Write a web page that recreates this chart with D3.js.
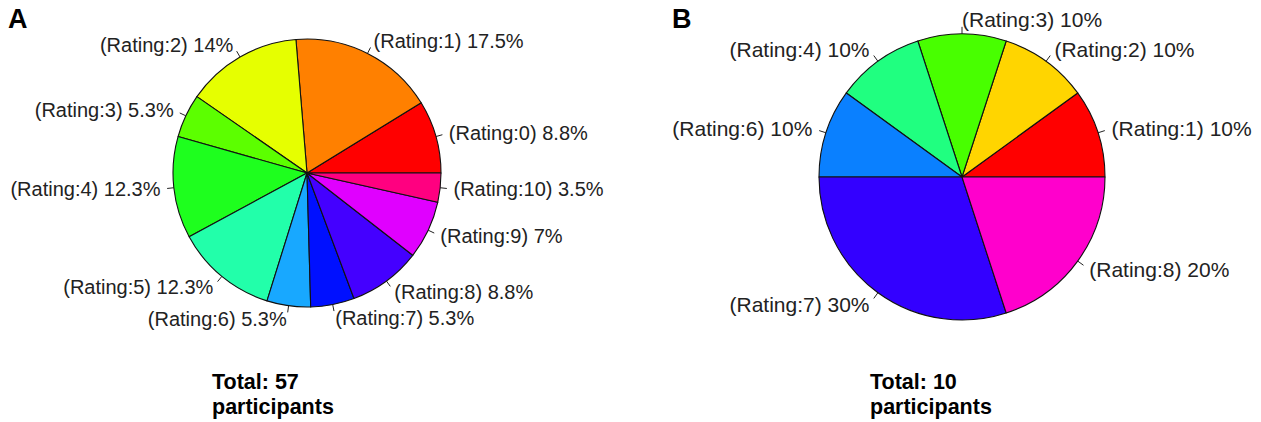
<!DOCTYPE html>
<html>
<head>
<meta charset="utf-8">
<script src="https://cdn.jsdelivr.net/npm/d3@7"></script>
<style>
  html, body { margin: 0; padding: 0; background: #fff; }
  svg { display: block; font-family: "Liberation Sans", Arial, sans-serif; }
</style>
</head>
<body>
<svg id="chart" width="1261" height="422"></svg>
<script>
// panel A: ratings 0..10, counts out of 57 participants
const ratingsA = ['0', '1', '2', '3', '4', '5', '6', '7', '8', '9', '10'];
const countsA = [5, 10, 8, 3, 7, 7, 3, 3, 5, 4, 2];
const colorsA = ['#FF0000', '#FF8000', '#E6FF00', '#5CFF00', '#1EFF1E', '#22FFAA',
                 '#18A8FF', '#0010FF', '#4400FF', '#E000FF', '#FF0080'];

// panel B: counts out of 10 participants
const ratingsB = ['1', '2', '3', '4', '6', '7', '8'];
const countsB = [1, 1, 1, 1, 1, 3, 2];
const colorsB = ['#FF0000', '#FFD500', '#48FF00', '#20FF80', '#0A80FF', '#3300FF', '#FF00CC'];

const svg = d3.select('#chart');
svg.append('rect').attr('width', 1261).attr('height', 422).attr('fill', '#fff');

function drawPie(opts) {
  const { ratings, counts, colors, cx, cy, r, letter, lx, tx, fs } = opts;
  const total = d3.sum(counts);
  const data = ratings.map((k, i) => ({
    k, n: counts[i], color: colors[i],
    pct: +(counts[i] / total * 100).toFixed(1)
  }));
  // R-style pie: start at 3 o'clock, go counter-clockwise
  const pie = d3.pie().value(d => d.n).sort(null)
    .startAngle(Math.PI / 2).endAngle(Math.PI / 2 - 2 * Math.PI);
  const arc = d3.arc().innerRadius(0).outerRadius(r);
  const g = svg.append('g').attr('transform', `translate(${cx},${cy})`);
  const arcs = pie(data);

  g.selectAll('path.slice').data(arcs).enter().append('path')
    .attr('class', 'slice')
    .attr('d', arc)
    .attr('fill', d => d.data.color)
    .attr('stroke', '#111')
    .attr('stroke-width', 1.1)
    .attr('stroke-linejoin', 'round');

  arcs.forEach(a => {
    const m = (a.startAngle + a.endAngle) / 2;
    const ux = Math.sin(m), uy = -Math.cos(m);
    g.append('line')
      .attr('x1', ux * r).attr('y1', uy * r)
      .attr('x2', ux * r * 1.05).attr('y2', uy * r * 1.05)
      .attr('stroke', '#222').attr('stroke-width', 1);
    g.append('text')
      .attr('x', ux * r * 1.1).attr('y', uy * r * 1.1)
      .attr('dy', '0.35em')
      .attr('text-anchor', ux < -1e-9 ? 'end' : 'start')
      .attr('font-size', fs)
      .attr('fill', '#222')
      .text(`(Rating:${a.data.k}) ${a.data.pct}%`);
  });

  svg.append('text').attr('x', lx).attr('y', 28)
    .attr('font-size', 27).attr('font-weight', 'bold').attr('fill', '#000')
    .text(letter);

  const t = svg.append('text').attr('font-size', 21.5).attr('font-weight', 'bold').attr('fill', '#000');
  t.append('tspan').attr('x', tx).attr('y', 389).text(`Total: ${total}`);
  t.append('tspan').attr('x', tx).attr('y', 414).text('participants');
}

drawPie({ ratings: ratingsA, counts: countsA, colors: colorsA,
  cx: 307, cy: 173, r: 134, letter: 'A', lx: 8, tx: 212, fs: 20 });
drawPie({ ratings: ratingsB, counts: countsB, colors: colorsB,
  cx: 962, cy: 177, r: 143, letter: 'B', lx: 672, tx: 870, fs: 21 });
</script>
</body>
</html>
